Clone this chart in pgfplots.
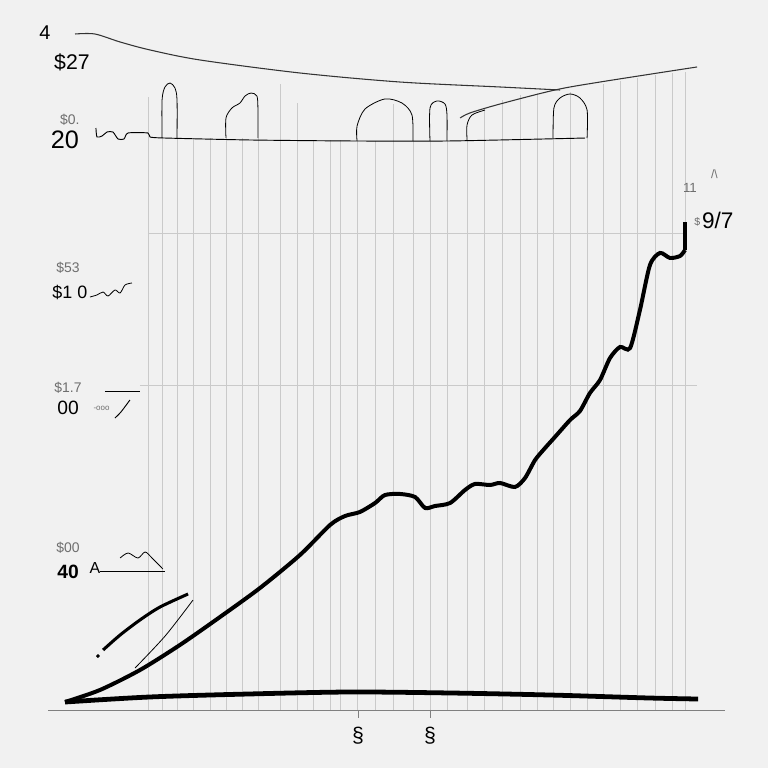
\documentclass[border=0pt]{standalone}
\usepackage{fontspec}
\setmainfont{Liberation Sans}
\usepackage{pgfplots}
\pgfplotsset{compat=1.18}
\definecolor{bg}{RGB}{241,241,241}
\definecolor{gridc}{RGB}{202,202,202}
\definecolor{lbl}{RGB}{110,110,110}
\definecolor{thin}{RGB}{90,90,90}

\begin{document}
\begin{tikzpicture}
\begin{axis}[
    scale only axis,
    width=8in, height=8in,
    xmin=-2.8235, xmax=42.353,
    ymin=-8.2857, ymax=101.4286,
    axis line style={draw=none},
    xtick=\empty, ytick=\empty,
    axis background/.style={fill=bg},
    clip=false,
]
% vertical grid lines
\addplot[ycomb, gridc, line width=0.55pt, no marks] coordinates {
 (5.88,87.57) (6.71,81.71) (7.59,81.71) (8.53,81.71) (9.53,81.71)
 (10.47,81.71) (11.41,81.71) (12.35,81.71) (13.65,89.43) (14.65,86.71)
 (15.59,81.43) (16.59,81.43) (17.18,81.43) (18.18,81.29) (19.24,81.29)
 (20.29,86.57) (21.47,81.29) (22.47,81.29) (23.47,81.29) (24.65,81.43)
 (25.65,86.0) (26.71,87.14) (27.76,87.86) (28.76,88.14) (29.71,81.71)
 (30.71,88.29) (31.71,81.71) (32.65,89.43) (33.65,89.86) (34.65,90.29)
 (35.71,90.71) (36.71,91.0) (37.47,91.14)
};
% horizontal faint grid lines
\addplot[gridc, line width=0.55pt] coordinates {(5.88,68.14) (37.47,68.14)};
\addplot[gridc, line width=0.55pt] coordinates {(5.41,46.43) (38.2,46.43)};
% x axis line
\addplot[gray, line width=0.7pt] coordinates {(0,0) (39.82,0)};
\addplot[gray, line width=0.7pt] coordinates {(18.24,0) (18.24,-1.2)};
\addplot[gray, line width=0.7pt] coordinates {(22.47,0) (22.47,-1.2)};

% wavy line at the top of the grid
\addplot[thin, line width=0.7pt, smooth, tension=0.4] coordinates {
 (2.82,83.14) (2.88,81.86) (3.18,82.0) (3.47,82.57) (3.82,82.57) (4.12,81.57)
 (4.47,81.57) (4.71,82.43) (5.88,82.43) (6.0,81.86) (6.88,81.71) (11.88,81.43)
 (17.76,81.29) (23.65,81.29) (31.59,81.71)
};
% arches
\addplot[thin, line width=0.6pt, smooth] coordinates {
 (6.71,81.71) (6.71,87.14) (6.88,89.0) (7.18,89.57) (7.47,88.86) (7.59,87.14) (7.59,81.71)};
\addplot[thin, line width=0.6pt, smooth] coordinates {
 (10.47,81.71) (10.47,84.57) (10.82,86.0) (11.29,86.71) (11.59,87.71) (11.94,88.14) (12.29,87.71) (12.35,85.71) (12.35,81.71)};
\addplot[thin, line width=0.6pt, smooth] coordinates {
 (18.18,81.29) (18.18,83.43) (18.65,85.86) (19.82,87.29) (20.82,86.71) (21.41,85.0) (21.47,81.29)};
\addplot[thin, line width=0.6pt, smooth] coordinates {
 (22.47,81.29) (22.47,86.0) (22.88,87.0) (23.35,86.57) (23.47,85.0) (23.47,81.29)};
\addplot[thin, line width=0.6pt, smooth] coordinates {
 (24.65,81.43) (24.65,83.57) (24.94,85.0) (25.71,85.71)};
\addplot[thin, line width=0.6pt, smooth] coordinates {
 (29.71,81.71) (29.76,86.0) (30.12,87.43) (30.71,88.0) (31.29,87.43) (31.71,85.71) (31.71,81.71)};

% thin top curves
\addplot[black!80, line width=0.8pt, smooth] coordinates {
 (1.59,96.57) (2.76,96.57) (4.24,95.43) (6.0,94.29) (8.94,92.86) (14.82,91.0)
 (20.71,89.71) (26.59,89.0) (30.12,88.57)};
\addplot[black!80, line width=0.8pt, smooth] coordinates {
 (24.24,84.57) (24.82,85.29) (26.59,86.57) (29.82,88.57) (32.47,89.71) (38.18,91.86)};

% small scribbles next to the labels
\addplot[thin, line width=0.6pt, smooth] coordinates {
 (2.47,59.0) (2.88,59.29) (3.24,59.71) (3.53,59.14) (3.94,60.0) (4.24,59.57) (4.53,60.71) (4.94,61.0)};
\addplot[thin, line width=0.7pt] coordinates {(3.35,45.57) (5.41,45.57)};
\addplot[thin, line width=0.7pt, smooth] coordinates {(3.94,41.71) (4.3,42.6) (4.82,44.29)};
\addplot[thin, line width=0.6pt] coordinates {(3.06,19.86) (6.88,19.86)};
\addplot[thin, line width=0.6pt, smooth] coordinates {
 (4.24,21.71) (4.71,22.43) (5.29,21.71) (5.71,22.57) (6.12,21.71) (6.76,20.14)};

% flat thick curve
\addplot[black, line width=3.6pt, smooth] coordinates {
 (1.0,1.14) (6.0,1.86) (11.88,2.29) (17.76,2.57) (23.65,2.43) (29.53,2.14)
 (35.41,1.71) (38.24,1.57)};
% thin diagonal
\addplot[thin, line width=0.6pt, smooth] coordinates {(5.12,6.0) (6.9,10.6) (8.53,15.71)};
% short arc
\addplot[black, line width=2.3pt, smooth] coordinates {
 (3.24,8.57) (4.24,10.71) (5.41,12.86) (6.59,14.71) (8.24,16.57)};
\addplot[black, only marks, mark=*, mark size=1.2pt] coordinates {(2.94,7.71)};
% main curve
\addplot[black, line width=3pt, smooth, tension=0.45] coordinates {
 (1.0,1.14) (3.06,2.86) (5.41,5.71) (7.76,9.29) (10.12,13.29) (12.47,17.43)
 (14.82,22.14) (16.59,26.43) (17.47,27.71) (18.35,28.29) (19.24,29.57)
 (19.82,30.71) (20.71,30.86) (21.59,30.43) (22.18,28.86) (22.76,29.14)
 (23.65,29.57) (24.53,31.43) (25.12,32.29) (26.0,32.14) (26.59,32.43)
 (27.47,31.86) (28.06,33.14) (28.65,35.71) (29.24,37.43) (29.82,39.0)
 (30.71,41.43) (31.29,42.71) (31.88,45.29) (32.47,47.14) (33.06,50.29)
 (33.65,51.86) (34.24,51.71) (34.82,57.14) (35.41,63.57) (36.0,65.29)
 (36.59,64.57) (37.18,64.86) (37.47,65.71)
};
\addplot[black, line width=2.4pt] coordinates {(37.47,65.71) (37.47,69.71)};

% labels
\node[font=\fontsize{15}{15}\selectfont] at (axis cs:-0.18,96.71) {4};
\node[font=\fontsize{16}{16}\selectfont] at (axis cs:1.41,92.57) {\$27};
\node[lbl, font=\fontsize{10.5}{11}\selectfont] at (axis cs:1.29,84.29) {\$0.};
\node[font=\fontsize{19}{19}\selectfont] at (axis cs:1.0,81.43) {20};
\node[lbl, font=\fontsize{10.5}{11}\selectfont] at (axis cs:1.18,63.14) {\$53};
\node[font=\fontsize{13.5}{14}\selectfont] at (axis cs:1.29,59.71) {\$1 0};
\node[lbl, font=\fontsize{10.5}{11}\selectfont] at (axis cs:1.18,46.0) {\$1.7};
\node[font=\fontsize{14.5}{15}\selectfont] at (axis cs:1.18,43.14) {00};
\node[lbl, font=\fontsize{6}{6}\selectfont] at (axis cs:3.15,43.14) {-ooo};
\node[lbl, font=\fontsize{10.5}{11}\selectfont] at (axis cs:1.18,23.14) {\$00};
\node[font=\bfseries\fontsize{14.5}{15}\selectfont] at (axis cs:1.18,19.71) {40};
\node[thin, font=\fontsize{12}{12}\selectfont] at (axis cs:2.76,20.29) {A};
\node[lbl, font=\fontsize{10}{10}\selectfont] at (axis cs:37.76,74.57) {11};
\node[lbl, font=\fontsize{9}{9}\selectfont] at (axis cs:39.2,76.5) {/\textbackslash};
\node[font=\fontsize{17}{17}\selectfont] at (axis cs:39.4,70.0) {9/7};
\node[lbl, font=\fontsize{8}{8}\selectfont] at (axis cs:38.2,69.7) {\$};
\node[font=\fontsize{16}{16}\selectfont] at (axis cs:18.24,-3.6) {\S};
\node[font=\fontsize{16}{16}\selectfont] at (axis cs:22.47,-3.6) {\S};
\end{axis}
\end{tikzpicture}
\end{document}
